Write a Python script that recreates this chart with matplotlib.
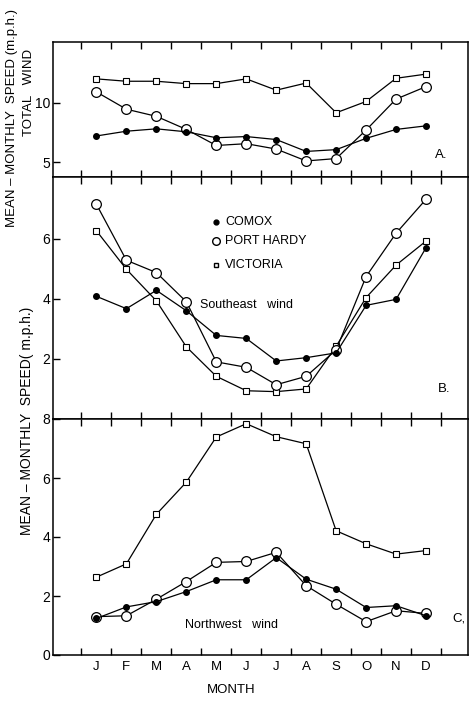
import matplotlib
matplotlib.use("Agg")
import matplotlib.pyplot as plt
import numpy as np

plt.rcParams['font.family'] = ['Liberation Sans', 'DejaVu Sans']

months = ["J", "F", "M", "A", "M", "J", "J", "A", "S", "O", "N", "D"]
x = np.arange(1, 13)

# A. total wind
total_comox = [7.2, 7.6, 7.8, 7.55, 7.05, 7.15, 6.9, 5.9, 6.05, 7.0, 7.75, 8.05]
total_porthardy = [10.9, 9.45, 8.85, 7.75, 6.4, 6.55, 6.1, 5.1, 5.3, 7.7, 10.3, 11.35]
total_victoria = [12.0, 11.8, 11.8, 11.6, 11.6, 12.0, 11.05, 11.65, 9.15, 10.1, 12.05, 12.4]

# B. southeast wind
se_comox = [4.08, 3.67, 4.28, 3.6, 2.78, 2.68, 1.93, 2.04, 2.2, 3.78, 3.98, 5.7]
se_porthardy = [7.14, 5.28, 4.87, 3.9, 1.9, 1.72, 1.14, 1.42, 2.3, 4.74, 6.18, 7.31]
se_victoria = [6.26, 4.98, 3.93, 2.4, 1.42, 0.94, 0.91, 1.0, 2.42, 4.04, 5.12, 5.92]

# C. northwest wind
nw_comox = [1.24, 1.63, 1.81, 2.15, 2.55, 2.55, 3.3, 2.57, 2.23, 1.61, 1.67, 1.33]
nw_porthardy = [1.3, 1.33, 1.89, 2.49, 3.14, 3.17, 3.48, 2.35, 1.72, 1.13, 1.5, 1.41]
nw_victoria = [2.64, 3.09, 4.77, 5.86, 7.39, 7.84, 7.4, 7.16, 4.21, 3.77, 3.42, 3.54]

W, H = 472, 701
fig = plt.figure(figsize=(W / 100, H / 100), dpi=100)

left, right = 53 / W, 468 / W
edges = [42, 177, 419, 655]  # pixel rows of panel borders


def make_ax(top_px, bot_px):
    return fig.add_axes([left, 1 - bot_px / H, right - left, (bot_px - top_px) / H])


axA = make_ax(edges[0], edges[1])
axB = make_ax(edges[1], edges[2])
axC = make_ax(edges[2], edges[3])

def draw(ax, c, p, v):
    ax.plot(x, v, color='black', lw=0.9, marker='s', ms=4, mfc='white', mec='black', mew=0.8)
    ax.plot(x, p, color='black', lw=0.9, marker='o', ms=7, mfc='white', mec='black', mew=0.9)
    ax.plot(x, c, color='black', lw=0.9, marker='o', ms=4, mfc='black', mec='black')

draw(axA, total_comox, total_porthardy, total_victoria)
draw(axB, se_comox, se_porthardy, se_victoria)
draw(axC, nw_comox, nw_porthardy, nw_victoria)

axA.set_ylim(3.75, 15.1)
axA.set_yticks([5, 10])
axB.set_ylim(0, 8.05)
axB.set_yticks([2, 4, 6])
axC.set_ylim(0, 8.0)
axC.set_yticks([0, 2, 4, 6, 8])

for ax in (axA, axB, axC):
    ax.set_xlim(-0.45, 13.4)
    ax.set_xticks(np.arange(0.5, 13, 1))
    ax.tick_params(axis='x', direction='in', top=True, bottom=True, length=5, width=1,
                   labelbottom=False)
    ax.tick_params(axis='y', direction='in', length=5, width=1, labelsize=10, pad=2)
    for s in ax.spines.values():
        s.set_linewidth(1.1)

# month labels under panel C
for m, lab in zip(x, months):
    axC.text(m, -0.4, lab, ha='center', va='center', fontsize=9.5)
axC.text(5.5, -1.2, "MONTH", ha='center', va='center', fontsize=9.5)

# panel labels and annotations
axA.text(12.5, 5.6, "A.", fontsize=9.5, ha='center', va='center')
axB.text(12.6, 1.0, "B.", fontsize=9.5, ha='center', va='center')
axC.text(13.1, 1.25, "C,", fontsize=9.5, ha='center', va='center')
axB.text(6.0, 3.8, "Southeast   wind", fontsize=9, ha='center', va='center')
axC.text(5.5, 1.0, "Northwest   wind", fontsize=9, ha='center', va='center')

# legend drawn by hand inside panel B
leg_names = ["COMOX", "PORT HARDY", "VICTORIA"]
leg_y = [6.55, 5.91, 5.12]
axB.plot(5.0, leg_y[0], marker='o', ms=3.5, mfc='black', mec='black', ls='none')
axB.plot(5.0, leg_y[1], marker='o', ms=5.5, mfc='white', mec='black', ls='none')
axB.plot(5.0, leg_y[2], marker='s', ms=3.5, mfc='white', mec='black', ls='none')
for name, yy in zip(leg_names, leg_y):
    axB.text(5.3, yy, name, fontsize=9, ha='left', va='center')

# axis titles
fig.text(12 / W, 1 - 118 / H, "MEAN \u2013 MONTHLY  SPEED (m.p.h.)", rotation=90,
         ha='center', va='center', fontsize=9.5)
fig.text(29 / W, 1 - 92 / H, "TOTAL   WIND", rotation=90, ha='center', va='center', fontsize=9.5)
fig.text(27 / W, 1 - 421 / H, "MEAN \u2013 MONTHLY  SPEED( m.p.h.)", rotation=90,
         ha='center', va='center', fontsize=10)

fig.savefig("out.png", dpi=100, facecolor='white')
